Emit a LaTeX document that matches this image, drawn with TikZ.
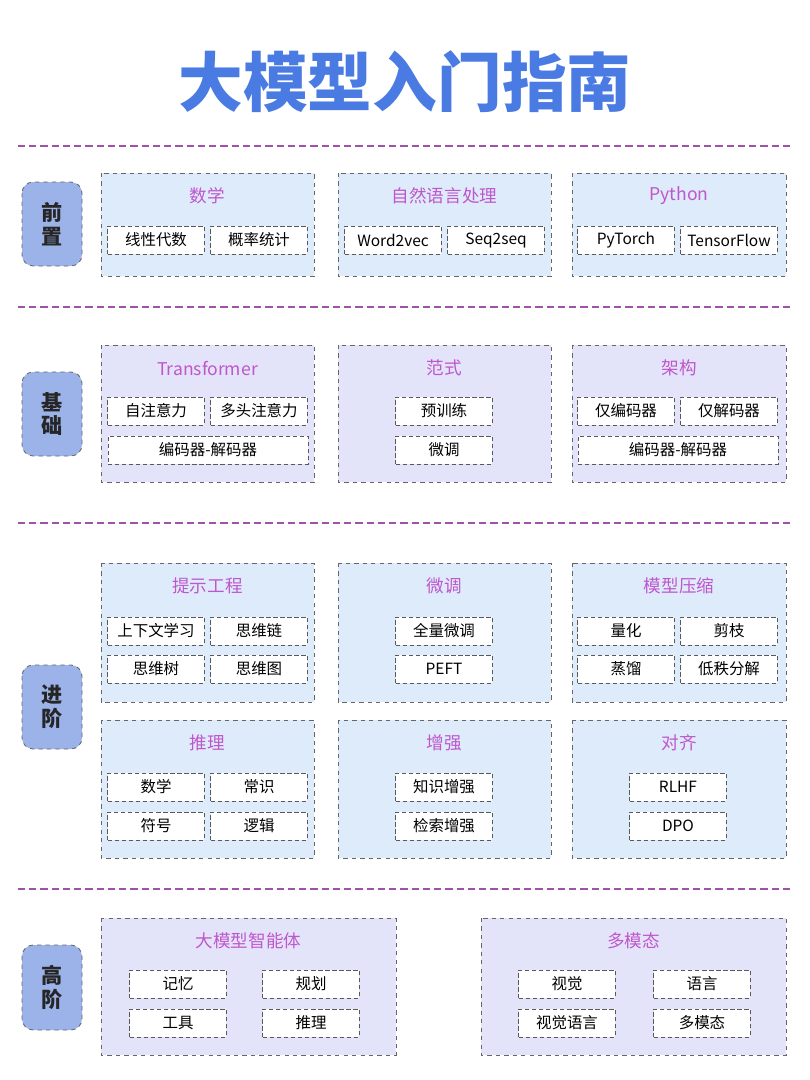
\documentclass[tikz,border=0pt]{standalone}
\usepackage{fontspec}
\setmainfont{Noto Sans CJK SC}
\usetikzlibrary{positioning}
\definecolor{titleblue}{HTML}{4A7BE2}
\definecolor{pillblue}{HTML}{9CB3EA}
\definecolor{cardblue}{HTML}{DDEBFA}
\definecolor{cardlav}{HTML}{E3E4F9}
\definecolor{headpink}{HTML}{C056CC}
\definecolor{seppurple}{HTML}{A052A8}
\tikzset{
  sep/.style={seppurple,dashed,line width=1.2pt,dash pattern=on 5pt off 3pt},
  pill/.style={draw=gray!80!black,dashed,rounded corners=8pt,fill=pillblue,line width=0.6pt},
  card/.style={draw=gray!80!black,dashed,line width=0.6pt},
  head/.style={text=headpink,font=\fontsize{12.5}{14}\selectfont},
  box/.style={draw=gray!70!black,densely dashed,line width=0.4pt,fill=white,
    minimum width=2.42cm,minimum height=0.7cm,inner sep=0pt,font=\fontsize{11}{13}\selectfont},
  wbox/.style={box,minimum width=5cm},
  stage/.style={font=\bfseries\fontsize{15}{17}\selectfont,text=black!85,align=center}
}
% card: x1,y1,x2,y2,fill,heading
\newcommand{\card}[6]{%
  \draw[card,fill=#5] (#1,#2) rectangle (#3,#4);
  \node[head] at ({(#1+#3)/2},#2+23) {#6};}
\begin{document}
\begin{tikzpicture}[x=0.025cm,y=-0.025cm]
\useasboundingbox[fill=white] (0,0) rectangle (810,1080);
%title
\node[text=titleblue,font=\bfseries\fontsize{46}{50}\selectfont] (title) at (405,82) {大模型入门指南};
%separators
\foreach \y in {146,307,523,889}
  \draw[sep] (18,\y) -- (790,\y);
%stages
\draw[pill] (22,182) rectangle (82,266);
\node[stage] (s1) at (52,224) {前\\置};
\draw[pill] (22,372) rectangle (82,456);
\node[stage] (s2) at (52,414) {基\\础};
\draw[pill] (22,665) rectangle (82,749);
\node[stage] (s3) at (52,707) {进\\阶};
\draw[pill] (22,945) rectangle (82,1030);
\node[stage] (s4) at (52,987) {高\\阶};
%row 1
\card{101}{173}{314}{276}{cardblue}{数学}
\card{338}{173}{551}{276}{cardblue}{自然语言处理}
\card{572}{173}{786}{276}{cardblue}{Python}
\node[box] (la) at (156,240) {线性代数};
\node[box] (pr) at (259,240) {概率统计};
\node[box] (wv) at (393,240) {Word2vec};
\node[box] (ss) at (496,240) {Seq2seq};
\node[box] (pt) at (626,240) {PyTorch};
\node[box] (tf) at (729,240) {TensorFlow};
%row 2
\card{101}{345}{314}{482}{cardlav}{Transformer}
\card{338}{345}{551}{482}{cardlav}{范式}
\card{572}{345}{786}{482}{cardlav}{架构}
\node[box] (sa) at (156,411) {自注意力};
\node[box] (mh) at (259,411) {多头注意力};
\node[wbox] (ed) at (208,450) {编码器-解码器};
\node[box] (ptr) at (444,411) {预训练};
\node[box] (ft) at (444,450) {微调};
\node[box] (eo) at (626,411) {仅编码器};
\node[box] (do) at (729,411) {仅解码器};
\node[wbox] (ed2) at (678,450) {编码器-解码器};
%row 3
\card{101}{563}{314}{702}{cardblue}{提示工程}
\card{338}{563}{551}{702}{cardblue}{微调}
\card{572}{563}{786}{702}{cardblue}{模型压缩}
\node[box] (icl) at (156,631) {上下文学习};
\node[box] (cot) at (259,631) {思维链};
\node[box] (tot) at (156,669) {思维树};
\node[box] (got) at (259,669) {思维图};
\node[box] (full) at (444,631) {全量微调};
\node[box] (peft) at (444,669) {PEFT};
\node[box] (qt) at (626,631) {量化};
\node[box] (pru) at (729,631) {剪枝};
\node[box] (kd) at (626,669) {蒸馏};
\node[box] (lr) at (729,669) {低秩分解};
\card{101}{720}{314}{858}{cardblue}{推理}
\card{338}{720}{551}{858}{cardblue}{增强}
\card{572}{720}{786}{858}{cardblue}{对齐}
\node[box] (math) at (156,787) {数学};
\node[box] (cs) at (259,787) {常识};
\node[box] (sym) at (156,826) {符号};
\node[box] (log) at (259,826) {逻辑};
\node[box] (ka) at (444,787) {知识增强};
\node[box] (rag) at (444,826) {检索增强};
\node[box] (rlhf) at (678,787) {RLHF};
\node[box] (dpo) at (678,826) {DPO};
%row 4
\card{101}{918}{396}{1055}{cardlav}{大模型智能体}
\card{481}{918}{786}{1055}{cardlav}{多模态}
\node[box] (mem) at (178,984) {记忆};
\node[box] (plan) at (311,984) {规划};
\node[box] (tool) at (178,1023) {工具};
\node[box] (rea) at (311,1023) {推理};
\node[box] (vis) at (567,984) {视觉};
\node[box] (lang) at (702,984) {语言};
\node[box] (vl) at (567,1023) {视觉语言};
\node[box] (mm) at (702,1023) {多模态};
\end{tikzpicture}
\end{document}
